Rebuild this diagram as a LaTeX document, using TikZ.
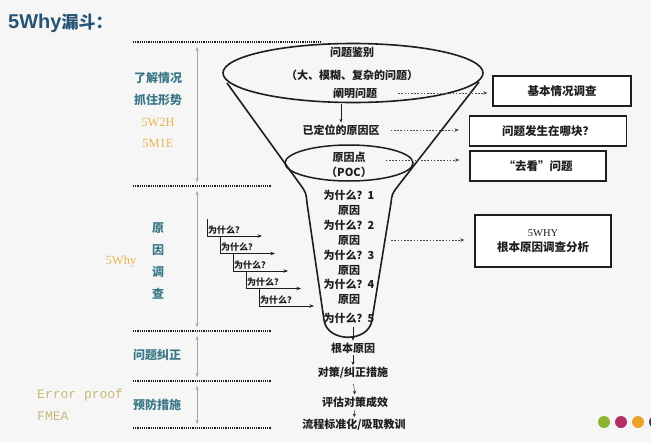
\documentclass[tikz,border=0pt]{standalone}
\usepackage{fontspec}
\usepackage{tikz}
\usetikzlibrary{shapes.geometric, arrows.meta, positioning, calc}
\newfontfamily\cjk{Noto Sans CJK SC}
\newfontfamily\lsans{Liberation Sans}
\newfontfamily\lmono{Liberation Mono}
\newfontfamily\lserif{Liberation Serif}
\definecolor{cBg}{RGB}{246,246,246}
\definecolor{cTitle}{RGB}{38,84,118}
\definecolor{cTeal}{RGB}{60,120,135}
\definecolor{cGold}{RGB}{232,182,82}
\definecolor{cOlive}{RGB}{200,184,120}
\definecolor{cInk}{RGB}{30,30,30}
\definecolor{cDotA}{RGB}{140,180,50}
\definecolor{cDotB}{RGB}{178,48,100}
\definecolor{cDotC}{RGB}{236,162,40}
\definecolor{cDotD}{RGB}{70,50,75}
\tikzset{
  inktext/.style={font=\cjk\bfseries\fontsize{11}{13}\selectfont,
                  text=cInk, inner sep=1pt},
  whylabel/.style={font=\cjk\bfseries\fontsize{9}{10}\selectfont,
                   text=cInk, inner sep=0pt},
  sidelabel/.style={font=\cjk\bfseries\fontsize{12}{14}\selectfont,
                    text=cTeal, inner sep=1pt},
  goldlabel/.style={font=\lserif\fontsize{12.5}{14}\selectfont,
                    text=cGold, inner sep=1pt},
  olivelabel/.style={font=\lmono\fontsize{13}{15}\selectfont,
                     text=cOlive, inner sep=1pt},
  infobox/.style={rectangle, draw=cInk, line width=1.1pt, fill=white,
                  align=center, text=cInk,
                  font=\cjk\bfseries\fontsize{11.5}{13}\selectfont},
  funnel/.style={draw=cInk, line width=1.6pt},
  sepline/.style={draw=cInk, line width=1.1pt,
                  dash pattern=on 1.1pt off 1.1pt},
  span/.style={<->, >={Stealth[length=4pt,width=3pt]}, draw=gray!70,
               thin, shorten <=5pt, shorten >=4pt},
  dotarrow/.style={->, >={Stealth[length=4.5pt,width=3.5pt]},
                   draw=gray!60!black, thick, dash pattern=on 1.6pt off 1.6pt},
  flowarrow/.style={->, >={Stealth[length=3.5pt,width=3pt]}, draw=cInk,
                    thin, shorten <=1pt, shorten >=1pt},
  stairarrow/.style={->, >={Stealth[length=4.5pt,width=3.5pt]},
                     draw=cInk, line width=0.9pt}
}
\begin{document}
\begin{tikzpicture}[x=1pt, y=-1pt]
  \useasboundingbox (0,0) rectangle (651,442);
  \fill[cBg] (0,0) rectangle (651,442);

  % Title
  \node[anchor=west, inner sep=0pt, text=cTitle] (title) at (8,23)
    {\lsans\bfseries\fontsize{20}{24}\selectfont 5Why\cjk\bfseries\fontsize{17}{20}\selectfont 漏斗：};

  % Separators and spans on the left
  \draw[sepline] (133,42) -- (322,42);
  \foreach \y in {186,331,381,428} {
    \draw[sepline] (133,\y) -- (271,\y);
  }
  \coordinate (s0) at (197,42);
  \coordinate (s1) at (197,186);
  \coordinate (s2) at (197,331);
  \coordinate (s3) at (197,381);
  \coordinate (s4) at (197,428);
  \draw[span] (s0) -- (s1);
  \draw[span] (s1) -- (s2);
  \draw[span] (s2) -- (s3);
  \draw[span] (s3) -- (s4);

  \node[sidelabel] (know) at (158,78) {了解情况};
  \node[sidelabel] (grasp) at (158,100) {抓住形势};
  \node[goldlabel] (wtwoh) at (158,122) {5W2H};
  \node[goldlabel] (mone) at (158,143) {5M1E};
  \foreach \c/\y in {原/228, 因/250, 调/272, 查/294} {
    \node[sidelabel] at (158,\y) {\c};
  }
  \node[goldlabel] (fivewhy) at (121,262) {5Why};
  \node[sidelabel] (correct) at (157,355) {问题纠正};
  \node[sidelabel] (prevent) at (157,405) {预防措施};
  \node[olivelabel, anchor=west] (errproof) at (36,395) {Error proof};
  \node[olivelabel, anchor=west] (fmea) at (36,416) {FMEA};

  % Why stairs
  \foreach \i in {0,...,4} {
    \pgfmathsetmacro{\sx}{207+13*\i}
    \pgfmathsetmacro{\sy}{236+17.5*\i}
    \coordinate (top\i) at (\sx,\sy-17.5);
    \coordinate (bend\i) at (\sx,\sy);
    \coordinate (tip\i) at (\sx+55,\sy);
    \draw[stairarrow] (top\i) -- (bend\i) -- (tip\i);
    \node[whylabel, anchor=south west] (why\i) at (\sx+1,\sy-1.5) {为什么？};
  }

  % Funnel
  \node[draw=cInk, line width=1.6pt, ellipse, minimum width=260pt,
        minimum height=59pt, inner sep=0pt] (mouth) at (353,73) {};
  \draw[funnel] (227,83) -- (302,187) .. controls (306,193) .. (307,203)
    -- (324,320) .. controls (327,343) and (369,343) .. (372,320)
    -- (391,203) .. controls (392,194) .. (398,186) -- (479,82);
  \node[draw=cInk, line width=1.5pt, ellipse, minimum width=128pt,
        minimum height=36pt, inner sep=0pt] (poc) at (349,163) {};

  \node[inktext] (ident) at (352,52) {问题鉴别};
  \node[inktext] (detail) at (352,75) {（大、模糊、复杂的问题）};
  \node[inktext] (clarify) at (355,93) {阐明问题};
  \node[inktext] (located) at (341,130) {已定位的原因区};
  \node[inktext] (pocpt) at (349,157) {原因点};
  \node[inktext] (pocabbr) at (349,172) {（POC）};
  \draw[flowarrow] (located.north |- mouth.south) -- (located.north);

  \foreach \t/\y [count=\k] in {为什么？1/195, 原因/210, 为什么？2/225,
      原因/240, 为什么？3/255, 原因/270, 为什么？4/284, 原因/299,
      为什么？5/318} {
    \node[inktext] (n\k) at (349,\y) {\t};
  }

  % Steps below the funnel
  \node[inktext] (root) at (353,348) {根本原因};
  \node[inktext] (fix) at (353,373) {对策/纠正措施};
  \node[inktext] (eval) at (355,402) {评估对策成效};
  \node[inktext] (std) at (354,425) {流程标准化/吸取教训};
  \draw[flowarrow, shorten <=3pt] (n9.south -| root.north) -- (root.north);
  \draw[flowarrow] (root.south) -- (fix.north);
  \draw[flowarrow, shorten <=4pt] (fix.south) -- (eval.north);
  \draw[flowarrow] (eval.south) -- (std.north);

  % Boxes on the right
  \node[infobox, minimum width=138pt, minimum height=30pt] (basic) at (562,91) {基本情况调查};
  \node[infobox, minimum width=157pt, minimum height=30pt] (where) at (548,131) {问题发生在哪块？};
  \node[infobox, minimum width=136pt, minimum height=30pt] (look) at (538,166) {“去看”问题};
  \node[infobox, minimum width=136pt, minimum height=52pt] (analysis) at (543,241)
    {{\lserif\mdseries\fontsize{10.5}{12}\selectfont 5WHY}\\[2pt]根本原因调查分析};

  \draw[dotarrow, shorten >=5pt] ([xshift=20pt]clarify.east) -- (clarify.east -| basic.west);
  \draw[dotarrow, shorten >=10pt] ([xshift=10pt]located.east) -- (located.east -| where.west);
  \draw[dotarrow, shorten >=10pt] ([xshift=19pt,yshift=-3pt]pocpt.east) -- ([yshift=-3pt]pocpt.east -| look.west);
  \draw[dotarrow, shorten >=10pt] ([xshift=30pt]n4.east) -- (n4.east -| analysis.west);

  % Dots
  \foreach \x/\c in {604/cDotA, 621/cDotB, 638/cDotC, 655/cDotD} {
    \fill[\c] (\x,422) circle (6);
  }
\end{tikzpicture}
\end{document}
